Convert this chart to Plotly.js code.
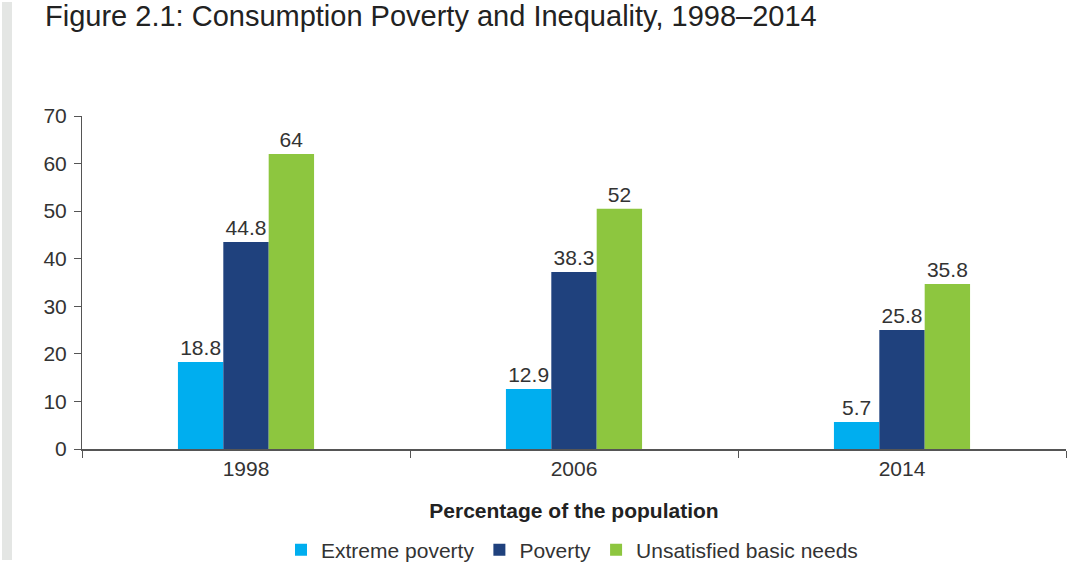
<!DOCTYPE html>
<html>
<head>
<meta charset="utf-8">
<script src="https://cdn.plot.ly/plotly-3.0.1.min.js"></script>
<style>
  html, body { margin: 0; padding: 0; background: #fff; }
  #chart { width: 1067px; height: 562px; }
</style>
</head>
<body>
<div id="chart"></div>
<script>
// Categories (years)
const years = ['1998', '2006', '2014'];
// Series names
const seriesNames = ['Extreme poverty', 'Poverty', 'Unsatisfied basic needs'];
// Bar heights as drawn in the picture
const extremeValues = [18.3, 12.6, 5.7];
const povertyValues = [43.5, 37.2, 25.0];
const ubnValues = [62.0, 50.5, 34.7];
// Data labels as printed
const extremeLabels = ['18.8', '12.9', '5.7'];
const povertyLabels = ['44.8', '38.3', '25.8'];
const ubnLabels = ['64', '52', '35.8'];
// Y ticks
const yTicks = [0, 10, 20, 30, 40, 50, 60, 70];

const colors = ['#00AEEF', '#1F417D', '#8DC63F'];
const FONT = 'Liberation Sans, Arial, sans-serif';
const FS = 21;
const labelFont = { family: FONT, size: FS, color: '#333333' };

function mk(i, vals, labels) {
  return {
    type: 'bar',
    name: seriesNames[i],
    x: years,
    y: vals,
    text: labels,
    textposition: 'outside',
    textfont: labelFont,
    constraintext: 'none',
    cliponaxis: false,
    marker: { color: colors[i], line: { width: 0 } },
    hoverinfo: 'x+y+name'
  };
}

const data = [
  mk(0, extremeValues, extremeLabels),
  mk(1, povertyValues, povertyLabels),
  mk(2, ubnValues, ubnLabels)
];

const layout = {
  width: 1067,
  height: 562,
  margin: { l: 82, r: 1, t: 116, b: 113 },
  paper_bgcolor: '#ffffff',
  plot_bgcolor: '#ffffff',
  barmode: 'group',
  bargap: 0.585,
  bargroupgap: 0,
  font: { family: FONT, color: '#333333' },
  title: {
    text: 'Figure 2.1: Consumption Poverty and Inequality, 1998–2014',
    font: { family: FONT, size: 29, color: '#222222' },
    xref: 'container', yref: 'container',
    x: 45 / 1067, xanchor: 'left',
    y: 1 - 16 / 562, yanchor: 'middle'
  },
  xaxis: {
    type: 'category',
    range: [-0.5, 2.5],
    showline: true, linecolor: '#555555', linewidth: 1.5,
    ticks: 'outside', tickson: 'boundaries', ticklen: 7, tickcolor: '#555555', tickwidth: 1,
    tickfont: { family: FONT, size: FS, color: '#333333' },
    showgrid: false, zeroline: false,
    automargin: false,
    title: {
      text: '<b>Percentage of the population</b>',
      font: { family: FONT, size: FS, color: '#222222' },
      standoff: 24
    }
  },
  yaxis: {
    range: [0, 70],
    tickvals: yTicks,
    showline: true, linecolor: '#555555', linewidth: 1,
    ticks: 'outside', ticklen: 7, tickcolor: '#555555', tickwidth: 1,
    ticklabelstandoff: 3,
    tickfont: { family: FONT, size: FS, color: '#333333' },
    showgrid: false, zeroline: false,
    automargin: false
  },
  legend: {
    orientation: 'h',
    xref: 'container', yref: 'container',
    x: 572 / 1067, xanchor: 'center',
    y: 1 - 550 / 562, yanchor: 'middle',
    font: { family: FONT, size: FS, color: '#333333' },
    itemwidth: 30,
    traceorder: 'normal'
  },
  shapes: [{
    type: 'rect', xref: 'paper', yref: 'paper', layer: 'below',
    x0: (2 - 82) / 984, x1: (12 - 82) / 984,
    y0: (449 - 560) / 333, y1: (449 - 2) / 333,
    fillcolor: '#e4e6e4', line: { width: 0 }
  }],
  showlegend: true
};

Plotly.newPlot('chart', data, layout, { displayModeBar: false, staticPlot: true });
</script>
</body>
</html>
